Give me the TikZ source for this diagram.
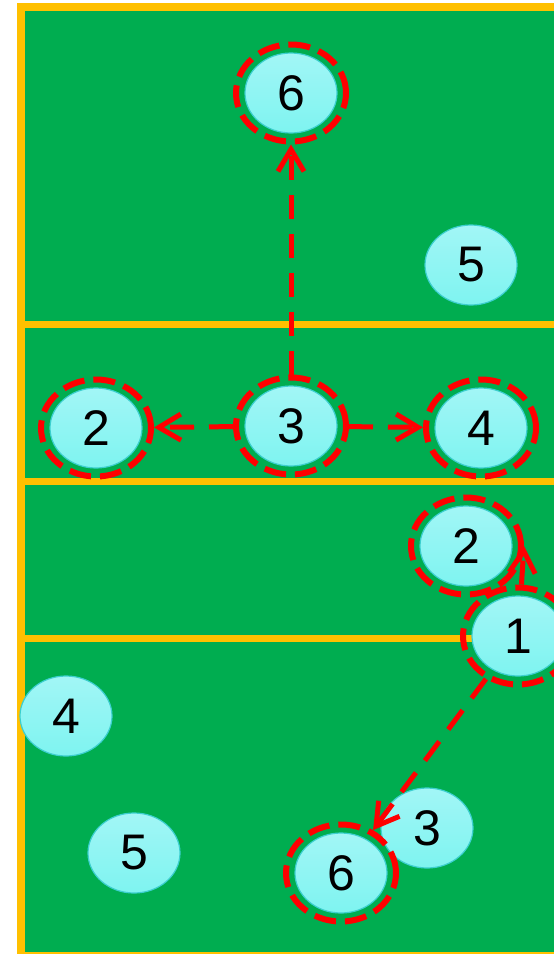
\documentclass[tikz,border=0pt]{standalone}
\usepackage{fontspec}
\setmainfont{Liberation Sans}
\usetikzlibrary{arrows.meta, shapes.geometric}
\definecolor{courtgreen}{HTML}{00AD50}
\definecolor{lineyellow}{HTML}{FFC000}
\definecolor{playertop}{HTML}{A2F6F6}
\definecolor{playerbottom}{HTML}{7EF4F0}
\definecolor{playeredge}{HTML}{3CCFCF}
\definecolor{movered}{HTML}{FF0000}

\begin{document}
\begin{tikzpicture}[
  x=1pt, y=-1pt,
  player/.style    = {ellipse, minimum width=92pt, minimum height=80pt, inner sep=0pt,
                      top color=playertop, bottom color=playerbottom, draw=playeredge,
                      line width=1.2pt, font=\fontsize{50}{50}\selectfont},
  ring/.style      = {ellipse, minimum width=110pt, minimum height=97pt, draw=movered,
                      line width=6pt, dash pattern=on 22pt off 9pt},
  move/.style      = {-{Straight Barb[length=22pt, width=26pt]}, line width=5pt,
                      color=movered, dash pattern=on 24pt off 15pt},
  courtline/.style = {lineyellow, line width=7pt},
]
\useasboundingbox (0,0) rectangle (554,954);
\clip (0,0) rectangle (554,954);

% Court
\draw[courtline, line width=8pt, fill=courtgreen] (21,6.5) rectangle (562,955.5);
\draw[courtline] (21,324) -- (560,324);
\draw[courtline] (21,481) -- (560,481);
\draw[courtline] (21,638) -- (560,638);

% Players
\node[player] (p6t) at (291,93)  {6};
\node[player] (p5t) at (471,265) {5};
\node[player] (p2m) at (96,428)  {2};
\node[player] (p3m) at (291,426) {3};
\node[player] (p4m) at (481,428) {4};
\node[player] (p2b) at (466,546) {2};
\node[player] (p1)  at (518,636) {1};
\node[player] (p4b) at (66,716)  {4};
\node[player] (p5b) at (134,853) {5};
\node[player] (p3b) at (427,828) {3};
\node[player] (p6b) at (341,873) {6};

% Marked players
\foreach \p in {p6t, p2m, p3m, p4m, p2b, p1, p6b}
  \node[ring] (r\p) at (\p) {};

% Moves
\draw[move] (rp3m) -- (rp6t);
\draw[move] (rp3m) -- (rp2m);
\draw[move] (rp3m) -- (rp4m);
\draw[move] (rp1)  -- (rp2b.east);
\draw[move] (rp1)  -- (rp6b);
\end{tikzpicture}
\end{document}
